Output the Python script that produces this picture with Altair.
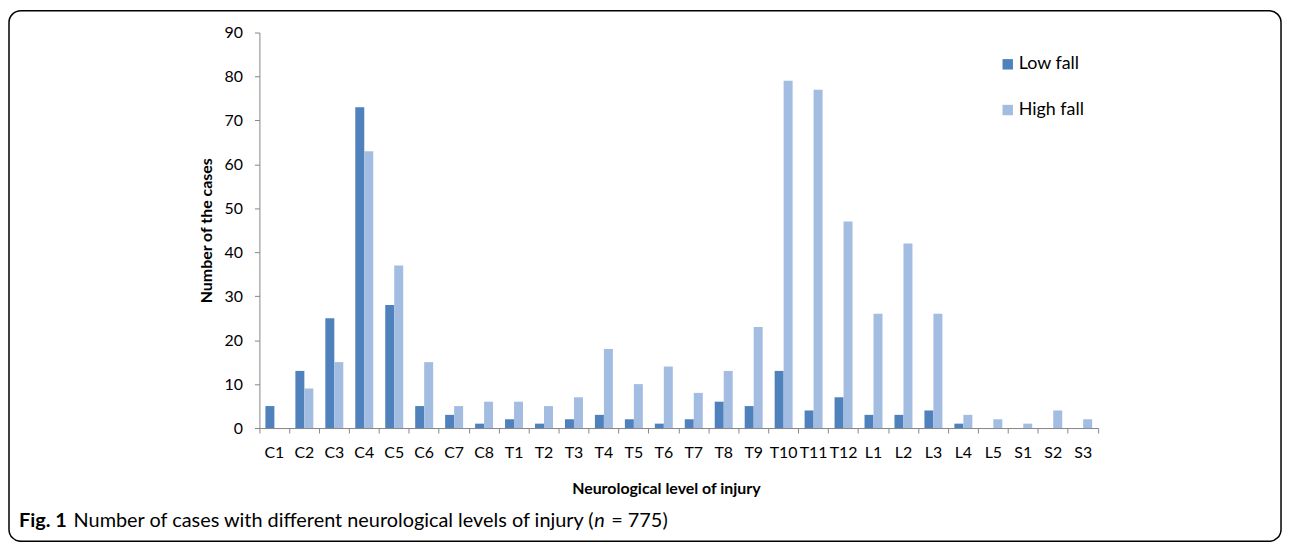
import altair as alt
import pandas as pd

categories = ["C1", "C2", "C3", "C4", "C5", "C6", "C7", "C8",
              "T1", "T2", "T3", "T4", "T5", "T6", "T7", "T8", "T9", "T10", "T11", "T12",
              "L1", "L2", "L3", "L4", "L5", "S1", "S2", "S3"]
low_fall = [5, 13, 25, 73, 28, 5, 3, 1, 2, 1, 2, 3, 2, 1, 2, 6, 5, 13, 4, 7, 3, 3, 4, 1, 0, 0, 0, 0]
high_fall = [0, 9, 15, 63, 37, 15, 5, 6, 6, 5, 7, 18, 10, 14, 8, 13, 23, 79, 77, 47, 26, 42, 26, 3, 2, 1, 4, 2]
series = ["Low fall", "High fall"]
colors = ["#4F81BD", "#A3BDE2"]
y_ticks = [0, 10, 20, 30, 40, 50, 60, 70, 80, 90]

rows = []
for c, lo, hi in zip(categories, low_fall, high_fall):
    rows.append({"level": c, "series": "Low fall", "value": lo})
    rows.append({"level": c, "series": "High fall", "value": hi})
df = pd.DataFrame(rows)

FONT = "Lato"
W, H = 844, 398

bars = alt.Chart(df).mark_bar().encode(
    x=alt.X("level:N", sort=categories,
            scale=alt.Scale(paddingInner=0, paddingOuter=0),
            axis=alt.Axis(title="Neurological level of injury", labelAngle=0,
                          bandPosition=1, tickExtra=True, tickSize=5,
                          tickColor="#868686", domainColor="#868686",
                          labelFont=FONT, labelFontSize=16, labelColor="#000000",
                          labelPadding=12, titleFont=FONT, titleFontSize=16,
                          titleFontWeight="bold", titleColor="#000000",
                          titlePadding=20, titleX=409)),
    xOffset=alt.XOffset("series:N", sort=series,
                        scale=alt.Scale(paddingInner=0, paddingOuter=0.6667)),
    y=alt.Y("value:Q", scale=alt.Scale(domain=[0, 90], nice=False),
            axis=alt.Axis(title="Number of the cases", values=y_ticks, grid=False,
                          tickSize=5, tickColor="#868686", domainColor="#868686",
                          labelFont=FONT, labelFontSize=16, labelColor="#000000",
                          labelPadding=12, titleFont=FONT, titleFontSize=16,
                          titleFontWeight="bold", titleColor="#000000",
                          titlePadding=10)),
    color=alt.Color("series:N", sort=series,
                    scale=alt.Scale(domain=series, range=colors),
                    legend=alt.Legend(title=None, orient="none", legendX=744, legendY=23,
                                      symbolType="square", symbolSize=110,
                                      symbolStrokeWidth=0, rowPadding=28,
                                      labelFont=FONT, labelFontSize=18,
                                      labelColor="#000000", labelOffset=2)),
)

border = alt.Chart(pd.DataFrame({"k": [0]})).mark_rect(
    fillOpacity=0, stroke="#000000", strokeWidth=1.5, cornerRadius=12
).encode(x=alt.value(-252), x2=alt.value(1028), y=alt.value(-22), y2=alt.value(512))

CAP_Y = 498
cap_bold = alt.Chart(pd.DataFrame({"t": ["Fig. 1"]})).mark_text(
    font=FONT, fontSize=20, fontWeight="bold", align="left", baseline="alphabetic",
    color="#000000"
).encode(x=alt.value(-242), y=alt.value(CAP_Y), text="t:N")

cap_main = alt.Chart(pd.DataFrame({"t": ["Number of cases with different neurological levels of injury ("]})).mark_text(
    font=FONT, fontSize=20, align="left", baseline="alphabetic", color="#000000"
).encode(x=alt.value(-187), y=alt.value(CAP_Y), text="t:N")

cap_n = alt.Chart(pd.DataFrame({"t": ["n"]})).mark_text(
    font=FONT, fontSize=20, fontStyle="italic", align="left", baseline="alphabetic",
    color="#000000"
).encode(x=alt.value(337), y=alt.value(CAP_Y), text="t:N")

cap_end = alt.Chart(pd.DataFrame({"t": ["= 775)"]})).mark_text(
    font=FONT, fontSize=20, align="left", baseline="alphabetic", color="#000000"
).encode(x=alt.value(354), y=alt.value(CAP_Y), text="t:N")

chart = alt.layer(border, bars, cap_bold, cap_main, cap_n, cap_end).properties(
    width=W, height=H,
    autosize=alt.AutoSizeParams(type="none"),
    padding={"left": 253, "top": 23, "right": 187, "bottom": 113},
).configure_view(stroke=None)

chart.save("out.html", embed_options={"renderer": "svg", "actions": False})
